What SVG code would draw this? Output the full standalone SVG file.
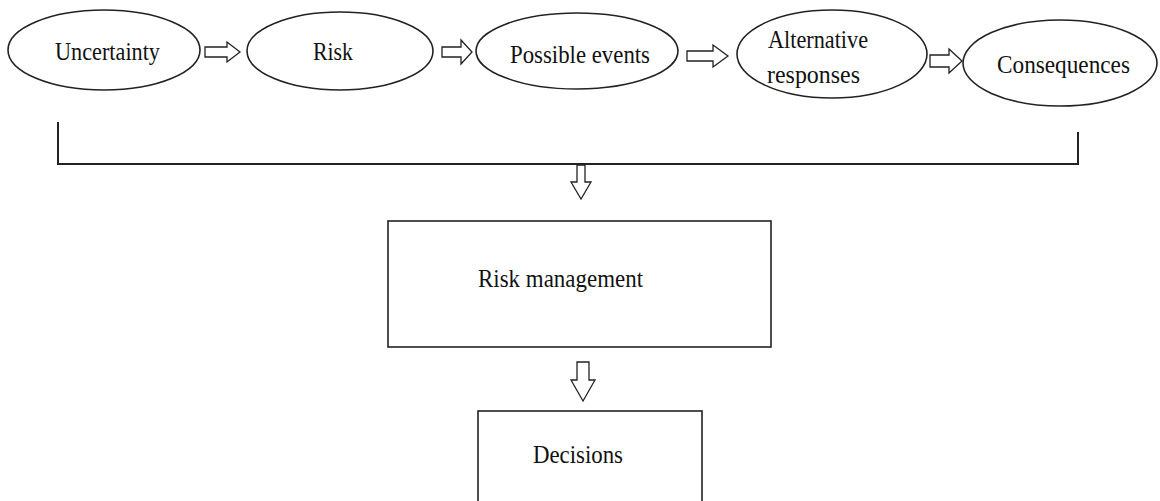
<svg xmlns="http://www.w3.org/2000/svg" width="1160" height="501" viewBox="0 0 1160 501">
<style>
.n{fill:#fff;stroke:#222;stroke-width:1.6}
.t{font-family:"Liberation Serif","Times New Roman",serif;font-size:26px;fill:#111}
.a{fill:#fff;stroke:#222;stroke-width:1.3;stroke-linejoin:miter}
.l{fill:none;stroke:#222;stroke-width:2}
</style>
<rect width="1160" height="501" fill="#fff"/>
<g id="connectors">
<path class="a" d="M205,47 L227,47 L227,42 L240,52 L227,62 L227,57 L205,57 Z"/>
<path class="a" d="M442,47 L461,47 L461,40 L472,52 L461,64 L461,57 L442,57 Z"/>
<path class="a" d="M687,51 L713,51 L713,45 L728,56 L713,67 L713,61 L687,61 Z"/>
<path class="a" d="M930,55 L949,55 L949,49 L962,61 L949,73 L949,67 L930,67 Z"/>
<polyline class="l" points="58,122 58,164 1078,164 1078,132"/>
<path class="a" d="M577,165 L577,182 L571,182 L581,199 L591,182 L585,182 L585,165 Z"/>
<path class="a" d="M577,362 L577,380 L571,380 L583,401 L595,380 L589,380 L589,362 Z"/>
</g>
<g id="uncertainty">
<ellipse class="n" cx="104" cy="50" rx="96" ry="40"/>
<text class="t" x="55" y="60" textLength="105" lengthAdjust="spacingAndGlyphs">Uncertainty</text>
</g>
<g id="risk">
<ellipse class="n" cx="340" cy="51" rx="93" ry="39"/>
<text class="t" x="313" y="60" textLength="40" lengthAdjust="spacingAndGlyphs">Risk</text>
</g>
<g id="possible-events">
<ellipse class="n" cx="577" cy="51" rx="101" ry="38"/>
<text class="t" x="510" y="63" textLength="140" lengthAdjust="spacingAndGlyphs">Possible events</text>
</g>
<g id="alternative-responses">
<ellipse class="n" cx="832" cy="54" rx="95" ry="44"/>
<text class="t" x="768" y="48" textLength="100" lengthAdjust="spacingAndGlyphs">Alternative</text>
<text class="t" x="767" y="83" textLength="93" lengthAdjust="spacingAndGlyphs">responses</text>
</g>
<g id="consequences">
<ellipse class="n" cx="1060" cy="63" rx="97" ry="43"/>
<text class="t" x="997" y="73" textLength="133" lengthAdjust="spacingAndGlyphs">Consequences</text>
</g>
<g id="risk-management">
<rect class="n" x="388" y="221" width="383" height="126"/>
<text class="t" x="478" y="287" textLength="165" lengthAdjust="spacingAndGlyphs">Risk management</text>
</g>
<g id="decisions">
<rect class="n" x="478" y="411" width="224" height="100"/>
<text class="t" x="533" y="463" textLength="90" lengthAdjust="spacingAndGlyphs">Decisions</text>
</g>
</svg>
